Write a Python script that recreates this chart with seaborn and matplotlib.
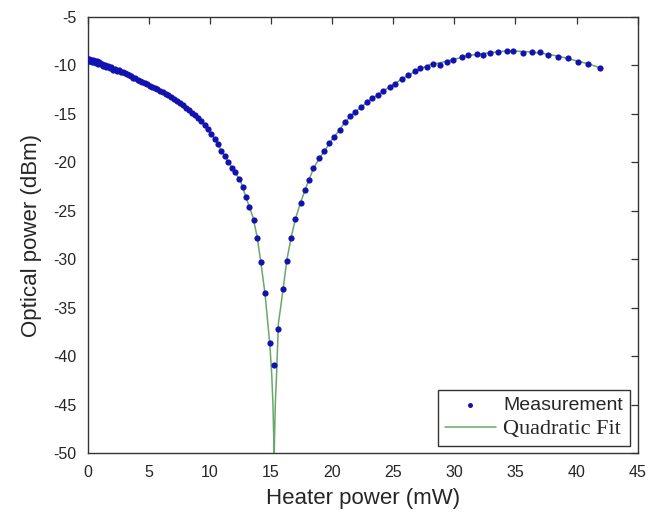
import numpy as np
import pandas as pd
import matplotlib
matplotlib.use("Agg")
import matplotlib.pyplot as plt
import seaborn as sns

heater_power = [
    0.00, 0.04, 0.08, 0.13, 0.19, 0.25, 0.32, 0.39, 0.47, 0.55,
    0.64, 0.73, 0.83, 0.93, 1.04, 1.15, 1.27, 1.39, 1.52, 1.65,
    1.79, 1.93, 2.07, 2.22, 2.37, 2.53, 2.69, 2.85, 3.02, 3.19,
    3.36, 3.54, 3.72, 3.90, 4.09, 4.28, 4.47, 4.67, 4.87, 5.07,
    5.28, 5.49, 5.70, 5.92, 6.14, 6.36, 6.59, 6.82, 7.05, 7.29,
    7.53, 7.77, 8.02, 8.27, 8.52, 8.78, 9.04, 9.30, 9.57, 9.84,
    10.11, 10.38, 10.66, 10.94, 11.22, 11.50, 11.78, 12.06, 12.38, 12.68,
    12.92, 13.22, 13.58, 13.87, 14.15, 14.50, 14.88, 15.24, 15.54, 15.97,
    16.28, 16.65, 16.98, 17.42, 17.77, 18.10, 18.45, 18.95, 19.35, 19.76,
    20.17, 20.64, 21.05, 21.46, 21.87, 22.36, 22.82, 23.23, 23.77, 24.20,
    24.73, 25.18, 25.68, 26.23, 26.78, 27.18, 27.73, 28.27, 28.82, 29.37,
    29.91, 30.60, 31.14, 31.82, 32.37, 32.91, 33.59, 34.28, 34.82, 35.64,
    36.32, 37.00, 37.68, 38.50, 39.32, 40.14, 40.96, 41.90,
]
optical_power = [
    -9.40, -9.55, -9.35, -9.60, -9.45, -9.50, -9.65, -9.50, -9.70, -9.60,
    -9.75, -9.62, -9.85, -9.72, -9.90, -9.85, -10.05, -9.95, -10.15, -10.05,
    -10.30, -10.20, -10.45, -10.35, -10.55, -10.50, -10.75, -10.70, -10.85, -10.95,
    -11.05, -11.15, -11.30, -11.35, -11.50, -11.60, -11.75, -11.85, -11.95, -12.10,
    -12.20, -12.35, -12.45, -12.62, -12.78, -12.92, -13.10, -13.30, -13.50, -13.70,
    -13.92, -14.12, -14.38, -14.60, -14.88, -15.12, -15.45, -15.75, -16.15, -16.55,
    -17.10, -17.60, -18.15, -18.80, -19.40, -19.95, -20.55, -21.05, -21.75, -22.57,
    -23.54, -24.57, -25.94, -27.76, -30.23, -33.49, -38.64, -40.87, -37.16, -33.07,
    -30.13, -27.76, -25.83, -24.22, -22.85, -21.82, -20.61, -19.58, -18.83, -18.04,
    -17.36, -16.63, -15.81, -15.20, -14.82, -14.30, -13.80, -13.40, -13.10, -12.62,
    -12.28, -11.90, -11.45, -11.00, -10.59, -10.31, -10.15, -9.90, -9.97, -9.63,
    -9.46, -9.18, -8.94, -8.84, -8.94, -8.77, -8.64, -8.50, -8.53, -8.77,
    -8.67, -8.67, -8.94, -9.12, -9.29, -9.63, -9.87, -10.25,
]

# Fitted curve
fit_power = [
    0, 1, 2, 3, 4, 5, 6, 7, 8, 9, 10, 10.5, 11, 11.5, 12, 12.5, 13, 13.5,
    13.85, 14.15, 14.5, 14.9, 15.05, 15.15, 15.22, 15.25, 15.28, 15.35,
    15.45, 15.6, 15.8, 16.0, 16.3, 16.65, 17.0, 17.4, 17.8, 18.1, 18.5,
    19, 19.5, 20, 20.5, 21, 21.5, 22, 22.5, 23, 23.5, 24, 24.5, 25, 26,
    27, 28, 29, 30, 31, 32, 33, 34, 35, 36, 37, 38, 39, 40, 41, 42,
]
fit_optical = [
    -9.45, -9.95, -10.40, -10.90, -11.45, -12.05, -12.70, -13.45, -14.35, -15.40,
    -16.85, -17.85, -18.95, -19.95, -20.95, -21.95, -23.80, -25.60,
    -27.60, -30.20, -33.50, -38.80, -41.80, -44.80, -48.50, -51.00, -48.50, -44.80,
    -41.80, -36.60, -34.80, -32.90, -30.00, -27.70, -25.80, -24.20, -22.80, -21.80, -20.55,
    -19.50, -18.60, -17.65, -16.85, -15.95, -15.25, -14.70, -14.20, -13.65, -13.25, -12.85, -12.40, -12.00, -11.20,
    -10.50, -9.95, -9.70, -9.40, -9.05, -8.85, -8.70, -8.57, -8.55, -8.62, -8.75, -8.95, -9.22, -9.55, -9.88, -10.30,
]

meas = pd.DataFrame({"x": heater_power, "y": optical_power})
fit = pd.DataFrame({"x": fit_power, "y": fit_optical})

sns.set_style("white")
plt.rcParams["font.family"] = ["Liberation Sans", "DejaVu Sans"]
plt.rcParams["axes.unicode_minus"] = False

fig, ax = plt.subplots(figsize=(6.48, 5.2), dpi=100)
fig.subplots_adjust(left=0.1355, right=0.984, bottom=0.128, top=0.968)

sns.lineplot(data=fit, x="x", y="y", sort=False, estimator=None, ax=ax,
             color="#6aa86a", linewidth=1.1, label="Quadratic Fit", zorder=2)
sns.scatterplot(data=meas, x="x", y="y", ax=ax, color="#1212b0", marker="o",
                s=20, linewidth=0, label="Measurement", zorder=3)

ax.set_xlim(0, 45)
ax.set_ylim(-50, -5)
ax.set_xticks(np.arange(0, 46, 5))
ax.set_yticks(np.arange(-50, -4, 5))
ax.tick_params(direction="in", top=True, right=True, length=5, width=0.9,
               labelsize=11.5, color="#333333", pad=8)
for sp in ax.spines.values():
    sp.set_color("#333333")
    sp.set_linewidth(1.0)

ax.set_xlabel("Heater power (mW)", fontsize=16, labelpad=6)
ax.set_ylabel("Optical power (dBm)", fontsize=16, labelpad=8)

handles, labels = ax.get_legend_handles_labels()
leg = ax.legend([handles[1], handles[0]], [labels[1], labels[0]],
                loc="lower right", fontsize=14, frameon=True, fancybox=False,
                edgecolor="#333333", framealpha=1, borderpad=0.35,
                labelspacing=0.3, handlelength=2.6, handletextpad=0.4,
                borderaxespad=0.4, markerscale=0.8)
leg.get_frame().set_linewidth(1.0)
leg.get_texts()[1].set_fontfamily("Liberation Serif")
leg.get_texts()[1].set_fontsize(16)

fig.savefig("out.png", dpi=100)
